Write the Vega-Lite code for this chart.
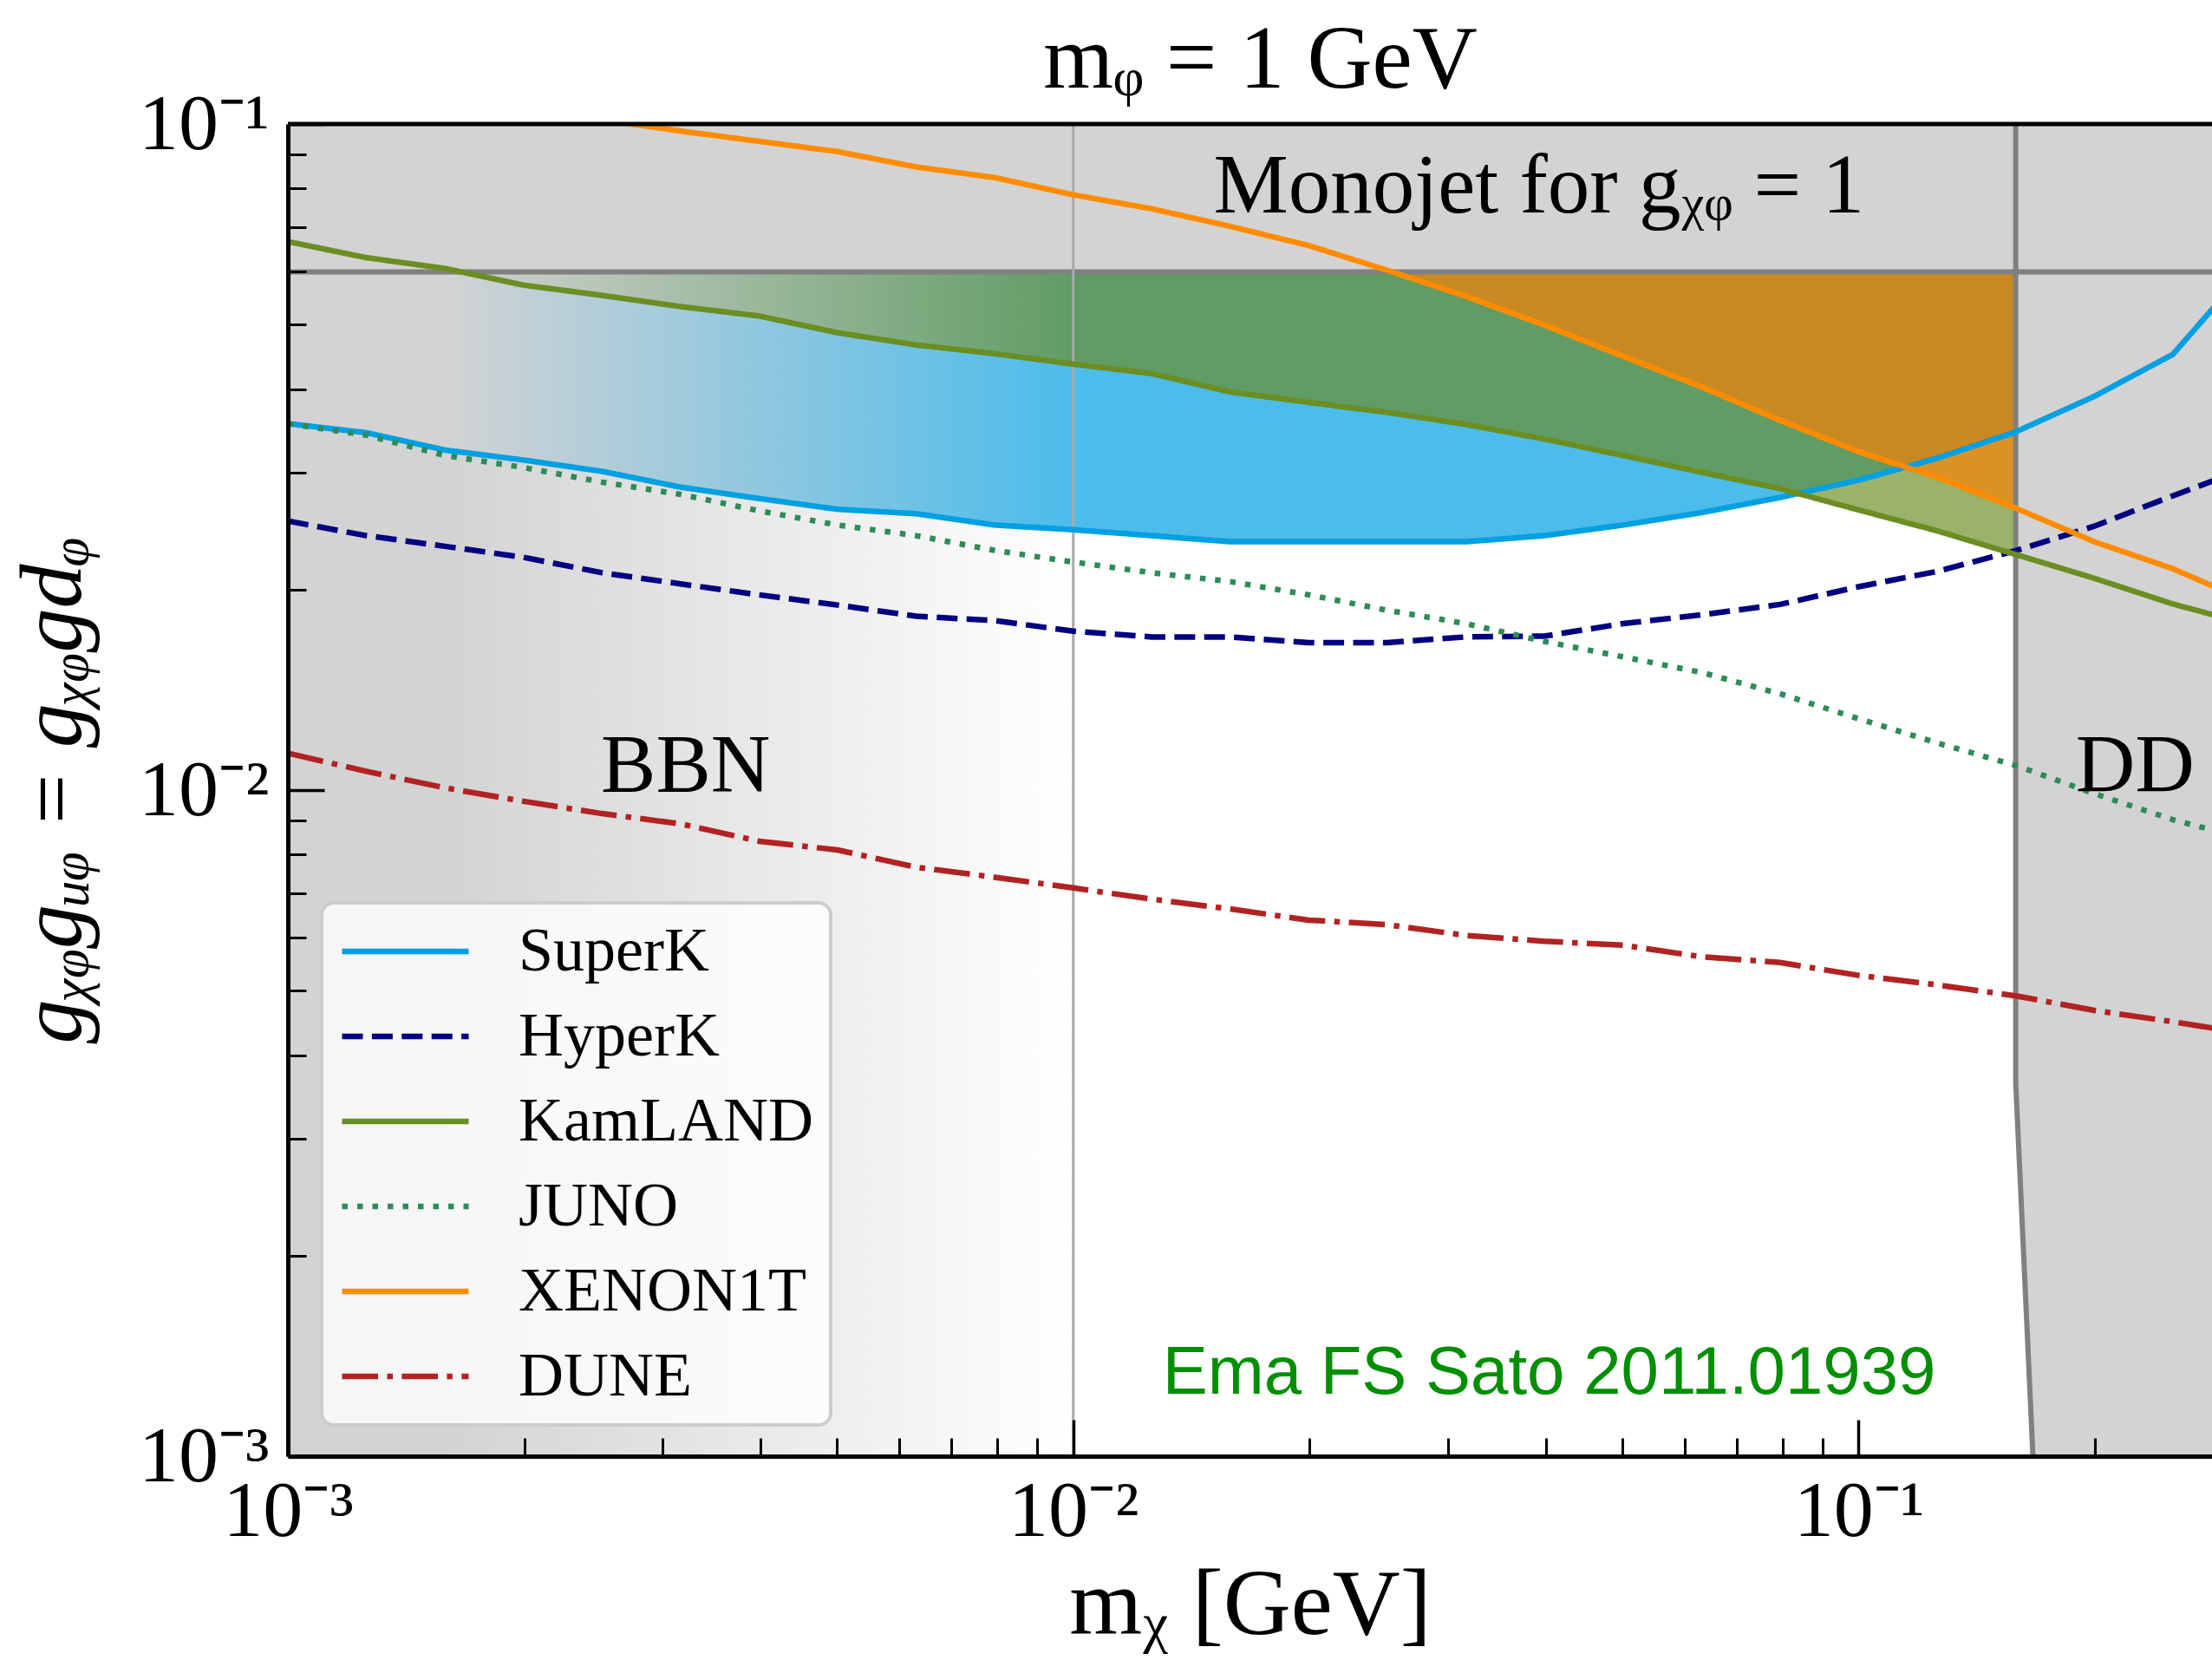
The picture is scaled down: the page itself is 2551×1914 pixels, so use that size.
{
  "$schema": "https://vega.github.io/schema/vega-lite/v6.json",
  "width": 2219,
  "height": 1536,
  "autosize": {"type": "none"},
  "padding": {"left": 332, "top": 143, "right": 0, "bottom": 235},
  "background": "white",
  "config": {"view": {"stroke": null}, "axis": {"grid": false}, "legend": {"strokeWidth": 4}},
  "title": {"text": "m\u1D69 = 1 GeV", "font": "Liberation Serif", "fontSize": 104, "fontWeight": "normal", "color": "black", "anchor": "middle", "frame": "group", "baseline": "alphabetic", "offset": -108, "dx": 12},
  "datasets": {
    "curves": [
      {"series": "SuperK", "x": 0.001, "y": 0.0355}, {"series": "SuperK", "x": 0.001259, "y": 0.0344}, {"series": "SuperK", "x": 0.001585, "y": 0.0324}, {"series": "SuperK", "x": 0.001995, "y": 0.0313}, {"series": "SuperK", "x": 0.002512, "y": 0.0301}, {"series": "SuperK", "x": 0.003162, "y": 0.0285}, {"series": "SuperK", "x": 0.003981, "y": 0.0274}, {"series": "SuperK", "x": 0.005012, "y": 0.0264}, {"series": "SuperK", "x": 0.00631, "y": 0.026}, {"series": "SuperK", "x": 0.007943, "y": 0.025}, {"series": "SuperK", "x": 0.01, "y": 0.0246}, {"series": "SuperK", "x": 0.01259, "y": 0.0241}, {"series": "SuperK", "x": 0.01585, "y": 0.0236}, {"series": "SuperK", "x": 0.01995, "y": 0.0236}, {"series": "SuperK", "x": 0.02512, "y": 0.0236}, {"series": "SuperK", "x": 0.03162, "y": 0.0236}, {"series": "SuperK", "x": 0.03981, "y": 0.0241}, {"series": "SuperK", "x": 0.05012, "y": 0.025}, {"series": "SuperK", "x": 0.0631, "y": 0.0261}, {"series": "SuperK", "x": 0.07943, "y": 0.0275}, {"series": "SuperK", "x": 0.1, "y": 0.0292}, {"series": "SuperK", "x": 0.1259, "y": 0.0315}, {"series": "SuperK", "x": 0.1585, "y": 0.0345}, {"series": "SuperK", "x": 0.1995, "y": 0.039}, {"series": "SuperK", "x": 0.2512, "y": 0.0451}, {"series": "SuperK", "x": 0.3162, "y": 0.0615},
      {"series": "HyperK", "x": 0.001, "y": 0.02535}, {"series": "HyperK", "x": 0.001259, "y": 0.0241}, {"series": "HyperK", "x": 0.001585, "y": 0.02323}, {"series": "HyperK", "x": 0.001995, "y": 0.02236}, {"series": "HyperK", "x": 0.002512, "y": 0.0212}, {"series": "HyperK", "x": 0.003162, "y": 0.0204}, {"series": "HyperK", "x": 0.003981, "y": 0.01964}, {"series": "HyperK", "x": 0.005012, "y": 0.01896}, {"series": "HyperK", "x": 0.00631, "y": 0.01824}, {"series": "HyperK", "x": 0.007943, "y": 0.01797}, {"series": "HyperK", "x": 0.01, "y": 0.01732}, {"series": "HyperK", "x": 0.01259, "y": 0.01698}, {"series": "HyperK", "x": 0.01585, "y": 0.01698}, {"series": "HyperK", "x": 0.01995, "y": 0.01665}, {"series": "HyperK", "x": 0.02512, "y": 0.01665}, {"series": "HyperK", "x": 0.03162, "y": 0.01698}, {"series": "HyperK", "x": 0.03981, "y": 0.01703}, {"series": "HyperK", "x": 0.05012, "y": 0.01778}, {"series": "HyperK", "x": 0.0631, "y": 0.01833}, {"series": "HyperK", "x": 0.07943, "y": 0.019}, {"series": "HyperK", "x": 0.1, "y": 0.0202}, {"series": "HyperK", "x": 0.1259, "y": 0.0213}, {"series": "HyperK", "x": 0.1585, "y": 0.02288}, {"series": "HyperK", "x": 0.1995, "y": 0.0249}, {"series": "HyperK", "x": 0.2512, "y": 0.02766}, {"series": "HyperK", "x": 0.3162, "y": 0.0306},
      {"series": "KamLAND", "x": 0.001, "y": 0.0666}, {"series": "KamLAND", "x": 0.001259, "y": 0.063}, {"series": "KamLAND", "x": 0.001585, "y": 0.0607}, {"series": "KamLAND", "x": 0.001995, "y": 0.0573}, {"series": "KamLAND", "x": 0.002512, "y": 0.0553}, {"series": "KamLAND", "x": 0.003162, "y": 0.0532}, {"series": "KamLAND", "x": 0.003981, "y": 0.0515}, {"series": "KamLAND", "x": 0.005012, "y": 0.0486}, {"series": "KamLAND", "x": 0.00631, "y": 0.0466}, {"series": "KamLAND", "x": 0.007943, "y": 0.0452}, {"series": "KamLAND", "x": 0.01, "y": 0.0436}, {"series": "KamLAND", "x": 0.01259, "y": 0.0422}, {"series": "KamLAND", "x": 0.01585, "y": 0.0396}, {"series": "KamLAND", "x": 0.01995, "y": 0.0382}, {"series": "KamLAND", "x": 0.02512, "y": 0.0369}, {"series": "KamLAND", "x": 0.03162, "y": 0.0354}, {"series": "KamLAND", "x": 0.03981, "y": 0.03365}, {"series": "KamLAND", "x": 0.05012, "y": 0.0318}, {"series": "KamLAND", "x": 0.0631, "y": 0.03}, {"series": "KamLAND", "x": 0.07943, "y": 0.02835}, {"series": "KamLAND", "x": 0.1, "y": 0.02634}, {"series": "KamLAND", "x": 0.1259, "y": 0.0245}, {"series": "KamLAND", "x": 0.1585, "y": 0.02258}, {"series": "KamLAND", "x": 0.1995, "y": 0.0208}, {"series": "KamLAND", "x": 0.2512, "y": 0.01903}, {"series": "KamLAND", "x": 0.3162, "y": 0.0177},
      {"series": "JUNO", "x": 0.001, "y": 0.0355}, {"series": "JUNO", "x": 0.001259, "y": 0.0341}, {"series": "JUNO", "x": 0.001585, "y": 0.0318}, {"series": "JUNO", "x": 0.001995, "y": 0.0305}, {"series": "JUNO", "x": 0.002512, "y": 0.029}, {"series": "JUNO", "x": 0.003162, "y": 0.0278}, {"series": "JUNO", "x": 0.003981, "y": 0.02626}, {"series": "JUNO", "x": 0.005012, "y": 0.025}, {"series": "JUNO", "x": 0.00631, "y": 0.0241}, {"series": "JUNO", "x": 0.007943, "y": 0.0229}, {"series": "JUNO", "x": 0.01, "y": 0.022}, {"series": "JUNO", "x": 0.01259, "y": 0.0212}, {"series": "JUNO", "x": 0.01585, "y": 0.02056}, {"series": "JUNO", "x": 0.01995, "y": 0.01964}, {"series": "JUNO", "x": 0.02512, "y": 0.01862}, {"series": "JUNO", "x": 0.03162, "y": 0.01778}, {"series": "JUNO", "x": 0.03981, "y": 0.01672}, {"series": "JUNO", "x": 0.05012, "y": 0.01585}, {"series": "JUNO", "x": 0.0631, "y": 0.01502}, {"series": "JUNO", "x": 0.07943, "y": 0.01395}, {"series": "JUNO", "x": 0.1, "y": 0.0128}, {"series": "JUNO", "x": 0.1259, "y": 0.01177}, {"series": "JUNO", "x": 0.1585, "y": 0.01089}, {"series": "JUNO", "x": 0.1995, "y": 0.00988}, {"series": "JUNO", "x": 0.2512, "y": 0.00903}, {"series": "JUNO", "x": 0.3162, "y": 0.00841},
      {"series": "XENON1T", "x": 0.002512, "y": 0.1015}, {"series": "XENON1T", "x": 0.003162, "y": 0.0976}, {"series": "XENON1T", "x": 0.003981, "y": 0.0942}, {"series": "XENON1T", "x": 0.005012, "y": 0.0909}, {"series": "XENON1T", "x": 0.00631, "y": 0.0862}, {"series": "XENON1T", "x": 0.007943, "y": 0.0831}, {"series": "XENON1T", "x": 0.01, "y": 0.0783}, {"series": "XENON1T", "x": 0.01259, "y": 0.0746}, {"series": "XENON1T", "x": 0.01585, "y": 0.0702}, {"series": "XENON1T", "x": 0.01995, "y": 0.0657}, {"series": "XENON1T", "x": 0.02512, "y": 0.0603}, {"series": "XENON1T", "x": 0.03162, "y": 0.0551}, {"series": "XENON1T", "x": 0.03981, "y": 0.0499}, {"series": "XENON1T", "x": 0.05012, "y": 0.0448}, {"series": "XENON1T", "x": 0.0631, "y": 0.0403}, {"series": "XENON1T", "x": 0.07943, "y": 0.0359}, {"series": "XENON1T", "x": 0.1, "y": 0.0322}, {"series": "XENON1T", "x": 0.1259, "y": 0.0295}, {"series": "XENON1T", "x": 0.1585, "y": 0.0265}, {"series": "XENON1T", "x": 0.1995, "y": 0.0236}, {"series": "XENON1T", "x": 0.2512, "y": 0.0215}, {"series": "XENON1T", "x": 0.3162, "y": 0.0191},
      {"series": "DUNE", "x": 0.001, "y": 0.01136}, {"series": "DUNE", "x": 0.001259, "y": 0.01067}, {"series": "DUNE", "x": 0.001585, "y": 0.01008}, {"series": "DUNE", "x": 0.001995, "y": 0.00962}, {"series": "DUNE", "x": 0.002512, "y": 0.00922}, {"series": "DUNE", "x": 0.003162, "y": 0.0089}, {"series": "DUNE", "x": 0.003981, "y": 0.00838}, {"series": "DUNE", "x": 0.005012, "y": 0.00813}, {"series": "DUNE", "x": 0.00631, "y": 0.00766}, {"series": "DUNE", "x": 0.007943, "y": 0.0074}, {"series": "DUNE", "x": 0.01, "y": 0.00713}, {"series": "DUNE", "x": 0.01259, "y": 0.00686}, {"series": "DUNE", "x": 0.01585, "y": 0.00663}, {"series": "DUNE", "x": 0.01995, "y": 0.00638}, {"series": "DUNE", "x": 0.02512, "y": 0.00628}, {"series": "DUNE", "x": 0.03162, "y": 0.00605}, {"series": "DUNE", "x": 0.03981, "y": 0.00593}, {"series": "DUNE", "x": 0.05012, "y": 0.00585}, {"series": "DUNE", "x": 0.0631, "y": 0.00562}, {"series": "DUNE", "x": 0.07943, "y": 0.00551}, {"series": "DUNE", "x": 0.1, "y": 0.00527}, {"series": "DUNE", "x": 0.1259, "y": 0.0051}, {"series": "DUNE", "x": 0.1585, "y": 0.00491}, {"series": "DUNE", "x": 0.1995, "y": 0.00467}, {"series": "DUNE", "x": 0.2512, "y": 0.00449}, {"series": "DUNE", "x": 0.3162, "y": 0.0043}
    ],
    "dd": [{"x": 0.1585, "y": 0.1, "k": 0}, {"x": 0.1585, "y": 0.00363, "k": 1}, {"x": 0.1667, "y": 0.001, "k": 2}]
  },
  "resolve": {"axis": {"x": "independent", "y": "independent"}},
  "layer": [
    {
      "data": {"values": [{"x1": 0.001, "x2": 0.3162, "y1": 0.06, "y2": 0.1}]},
      "mark": {"type": "rect", "fill": "#d3d3d3", "clip": true},
      "encoding": {
        "x": {"field": "x1", "type": "quantitative", "scale": {"type": "log", "domain": [0.001, 0.2818], "nice": false},
          "axis": {"orient": "bottom", "values": [0.001, 0.01, 0.1], "labelExpr": "datum.value == 0.001 ? '10\u207B\u00B3' : datum.value == 0.01 ? '10\u207B\u00B2' : '10\u207B\u00B9'", "tickSize": -42, "tickWidth": 3.5, "tickColor": "black", "domainColor": "black", "domainWidth": 5, "labelFont": "Liberation Serif", "labelFontSize": 92, "labelColor": "black", "labelPadding": 60, "labelFlush": false, "labelOverlap": false, "labelBound": false, "title": "m\u1D6A [GeV]", "titleFont": "Liberation Serif", "titleFontSize": 108, "titleFontWeight": "normal", "titleColor": "black", "titleBaseline": "alphabetic", "titleY": 204, "grid": false, "zindex": 1}},
        "x2": {"field": "x2"},
        "y": {"field": "y1", "type": "quantitative", "scale": {"type": "log", "domain": [0.001, 0.1], "nice": false},
          "axis": {"orient": "left", "values": [0.001, 0.01, 0.1], "labelExpr": "datum.value == 0.001 ? '10\u207B\u00B3' : datum.value == 0.01 ? '10\u207B\u00B2' : '10\u207B\u00B9'", "tickSize": -42, "tickWidth": 3.5, "tickColor": "black", "domainColor": "black", "domainWidth": 5, "labelFont": "Liberation Serif", "labelFontSize": 92, "labelColor": "black", "labelPadding": 64, "labelBaseline": "middle", "labelFlush": false, "labelOverlap": false, "labelBound": false, "title": "g\u1D6A\u1D69g\u1D64\u1D69 = g\u1D6A\u1D69gd\u1D69", "titleFont": "Liberation Serif", "titleFontStyle": "italic", "titleFontSize": 102, "titleFontWeight": "normal", "titleColor": "black", "titleBaseline": "alphabetic", "titleX": -240, "grid": false, "zindex": 1}},
        "y2": {"field": "y2"}
      }
    },
    {
      "data": {"name": "dd"},
      "mark": {"type": "area", "orient": "horizontal", "fill": "#d3d3d3", "clip": true},
      "encoding": {
        "y": {"field": "y", "type": "quantitative",
          "axis": {"orient": "left", "values": [0.002, 0.003, 0.004, 0.005, 0.006, 0.007, 0.008, 0.009, 0.02, 0.03, 0.04, 0.05, 0.06, 0.07, 0.08, 0.09], "tickSize": -21, "tickWidth": 3, "tickColor": "black", "labels": false, "domain": false, "title": null, "grid": false, "zindex": 1}},
        "x": {"field": "x", "type": "quantitative",
          "axis": {"orient": "bottom", "values": [0.002, 0.003, 0.004, 0.005, 0.006, 0.007, 0.008, 0.009, 0.02, 0.03, 0.04, 0.05, 0.06, 0.07, 0.08, 0.09, 0.2], "tickSize": -21, "tickWidth": 3, "tickColor": "black", "labels": false, "domain": false, "title": null, "grid": false, "zindex": 1}},
        "x2": {"datum": 0.3162}
      }
    },
    {
      "data": {"name": "curves"},
      "transform": [{"filter": "datum.series == 'SuperK' && datum.x <= 0.16"}],
      "mark": {"type": "area", "fill": "#00a0e2", "opacity": 0.7},
      "encoding": {
        "x": {"field": "x", "type": "quantitative", "axis": null},
        "y": {"field": "y", "type": "quantitative", "axis": null},
        "y2": {"datum": 0.06}
      }
    },
    {
      "data": {"name": "curves"},
      "transform": [{"filter": "datum.series == 'KamLAND' && datum.x >= 0.0015 && datum.x <= 0.16"}],
      "mark": {"type": "area", "fill": "#6b8e23", "opacity": 0.68},
      "encoding": {
        "x": {"field": "x", "type": "quantitative", "axis": null},
        "y": {"field": "y", "type": "quantitative", "axis": null},
        "y2": {"datum": 0.06}
      }
    },
    {
      "data": {"name": "curves"},
      "transform": [{"filter": "datum.series == 'XENON1T' && datum.x >= 0.025 && datum.x <= 0.16"}],
      "mark": {"type": "area", "fill": "#ff8000", "opacity": 0.65},
      "encoding": {
        "x": {"field": "x", "type": "quantitative", "axis": null},
        "y": {"field": "y", "type": "quantitative", "axis": null},
        "y2": {"datum": 0.06}
      }
    },
    {
      "data": {"values": [{"x1": 0.001, "x2": 0.01, "y1": 0.001, "y2": 0.1}]},
      "mark": {"type": "rect", "fill": {"gradient": "linear", "x1": 0, "y1": 0, "x2": 1, "y2": 0, "stops": [{"offset": 0, "color": "rgba(211,211,211,1)"}, {"offset": 0.2, "color": "rgba(211,211,211,1)"}, {"offset": 1, "color": "rgba(211,211,211,0)"}]}},
      "encoding": {
        "x": {"field": "x1", "type": "quantitative", "axis": null},
        "x2": {"field": "x2"},
        "y": {"field": "y1", "type": "quantitative", "axis": null},
        "y2": {"field": "y2"}
      }
    },
    {
      "data": {"values": [{}]},
      "mark": {"type": "rule", "color": "#808080", "strokeWidth": 6},
      "encoding": {"y": {"datum": 0.06, "type": "quantitative", "axis": null}}
    },
    {
      "data": {"values": [{}]},
      "mark": {"type": "rule", "color": "#a9a9a9", "strokeWidth": 3},
      "encoding": {"x": {"datum": 0.01, "type": "quantitative", "axis": null}}
    },
    {
      "data": {"name": "dd"},
      "mark": {"type": "line", "color": "#808080", "strokeWidth": 6},
      "encoding": {
        "x": {"field": "x", "type": "quantitative", "axis": null},
        "y": {"field": "y", "type": "quantitative", "axis": null},
        "order": {"field": "k"}
      }
    },
    {
      "data": {"name": "curves"},
      "mark": {"type": "line", "strokeWidth": 6.5, "clip": true, "strokeCap": "butt"},
      "encoding": {
        "x": {"field": "x", "type": "quantitative", "axis": null},
        "y": {"field": "y", "type": "quantitative", "axis": null},
        "color": {"field": "series", "type": "nominal",
          "scale": {"domain": ["SuperK", "HyperK", "KamLAND", "JUNO", "XENON1T", "DUNE"], "range": ["#00a0e2", "#000080", "#6b8e23", "#2e8b57", "#ff8c00", "#b22222"]},
          "legend": {"orient": "none", "legendX": 39, "legendY": 898, "title": null, "symbolType": "stroke", "symbolSize": 21316, "symbolStrokeWidth": 6.5, "labelFont": "Liberation Serif", "labelFontSize": 72, "labelColor": "black", "labelOffset": 54, "labelLimit": 1000, "padding": 20, "rowPadding": 26, "clipHeight": 72, "fillColor": "rgba(255,255,255,0.8)", "strokeColor": "#cccccc", "cornerRadius": 14}},
        "strokeDash": {"field": "series", "type": "nominal",
          "scale": {"domain": ["SuperK", "HyperK", "KamLAND", "JUNO", "XENON1T", "DUNE"], "range": [[1, 0], [24, 10.4], [1, 0], [6.5, 11], [1, 0], [41.6, 10.4, 6.5, 10.4]]},
          "legend": {"orient": "none", "legendX": 39, "legendY": 898, "title": null, "symbolType": "stroke", "symbolSize": 21316, "symbolStrokeWidth": 6.5, "labelFont": "Liberation Serif", "labelFontSize": 72, "labelColor": "black", "labelOffset": 54, "labelLimit": 1000, "padding": 20, "rowPadding": 26, "clipHeight": 72, "fillColor": "rgba(255,255,255,0.8)", "strokeColor": "#cccccc", "cornerRadius": 14}}
      }
    },
    {
      "data": {"values": [{}]},
      "mark": {"type": "rule", "color": "black", "strokeWidth": 5},
      "encoding": {"y": {"datum": 0.1, "type": "quantitative", "axis": null}}
    },
    {
      "data": {"values": [{"label": "BBN", "x": 0.00321, "y": 0.00994}, {"label": "DD", "x": 0.2249, "y": 0.00994}]},
      "mark": {"type": "text", "font": "Liberation Serif", "fontSize": 95, "color": "black", "align": "center", "baseline": "alphabetic"},
      "encoding": {
        "x": {"field": "x", "type": "quantitative", "axis": null},
        "y": {"field": "y", "type": "quantitative", "axis": null},
        "text": {"field": "label"}
      }
    },
    {
      "data": {"values": [{"label": "Monojet for g\u1D6A\u1D69 = 1", "x": 0.01509, "y": 0.0737}]},
      "mark": {"type": "text", "font": "Liberation Serif", "fontSize": 97, "color": "black", "align": "left", "baseline": "alphabetic"},
      "encoding": {
        "x": {"field": "x", "type": "quantitative", "axis": null},
        "y": {"field": "y", "type": "quantitative", "axis": null},
        "text": {"field": "label"}
      }
    },
    {
      "data": {"values": [{"label": "Ema FS Sato 2011.01939", "x": 0.01299, "y": 0.00124}]},
      "mark": {"type": "text", "font": "Liberation Sans", "fontSize": 78, "color": "#008f00", "align": "left", "baseline": "alphabetic"},
      "encoding": {
        "x": {"field": "x", "type": "quantitative", "axis": null},
        "y": {"field": "y", "type": "quantitative", "axis": null},
        "text": {"field": "label"}
      }
    }
  ]
}
